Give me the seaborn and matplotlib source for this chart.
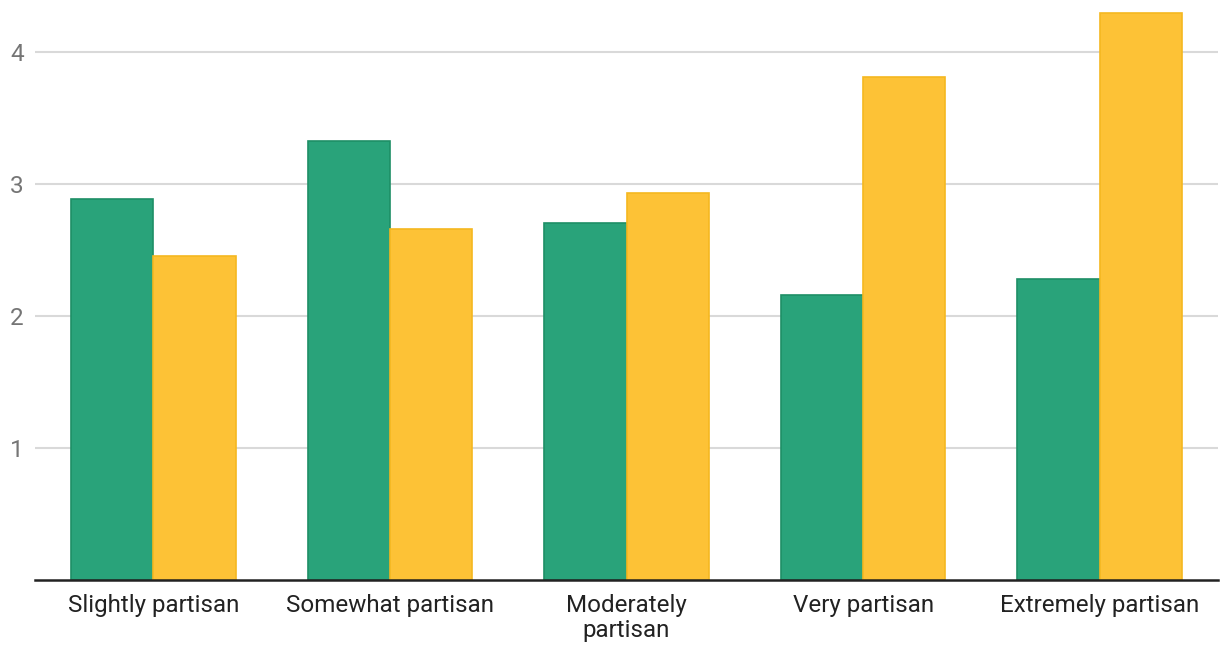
import matplotlib
matplotlib.use("Agg")
import matplotlib.pyplot as plt
import seaborn as sns
import pandas as pd

categories = ["Slightly partisan", "Somewhat partisan", "Moderately\npartisan",
              "Very partisan", "Extremely partisan"]
series_names = ["Series A", "Series B"]
green_values = [2.88, 3.32, 2.70, 2.16, 2.28]
yellow_values = [2.45, 2.66, 2.93, 3.81, 4.29]
y_ticks = [1, 2, 3, 4]

df = pd.DataFrame({
    "category": categories * 2,
    "series": [series_names[0]] * len(categories) + [series_names[1]] * len(categories),
    "value": green_values + yellow_values,
})

sns.set_theme(style="white")
plt.rcParams["font.family"] = ["Roboto", "DejaVu Sans"]

fig = plt.figure(figsize=(12.21, 6.46), dpi=100)
ax = fig.add_axes([35 / 1221, 66 / 646, 1183 / 1221, 580 / 646])

palette = {series_names[0]: "#29A37A", series_names[1]: "#FDC236"}
sns.barplot(data=df, x="category", y="value", hue="series", order=categories,
            hue_order=series_names, palette=palette, width=0.695, ax=ax,
            saturation=1, legend=False)

edge = {series_names[0]: "#1E8F66", series_names[1]: "#F5B820"}
for cont, name in zip(ax.containers, series_names):
    for bar in cont:
        bar.set_edgecolor(edge[name])
        bar.set_linewidth(1.2)
        bar.set_zorder(3)

ax.set_xlim(-0.5, 4.5)
ax.set_ylim(0, 4.39)
ax.set_yticks(y_ticks)
ax.set_yticklabels([str(t) for t in y_ticks])
ax.yaxis.grid(True, color="#D9D9D9", linewidth=1.5, zorder=0)
ax.set_axisbelow(True)
for s in ["top", "right", "left"]:
    ax.spines[s].set_visible(False)
ax.spines["bottom"].set_color("#222222")
ax.spines["bottom"].set_linewidth(1.8)
ax.spines["bottom"].set_zorder(5)
ax.set_xlabel("")
ax.set_ylabel("")
ax.tick_params(axis="y", length=0, pad=8, labelsize=17.5, labelcolor="#757575")
ax.tick_params(axis="x", length=0, pad=10, labelsize=17.4, labelcolor="#222222")
for lab in ax.get_xticklabels():
    lab.set_linespacing(1.1)
    lab.set_va("top")

fig.savefig("out.png", dpi=100, facecolor="white")
